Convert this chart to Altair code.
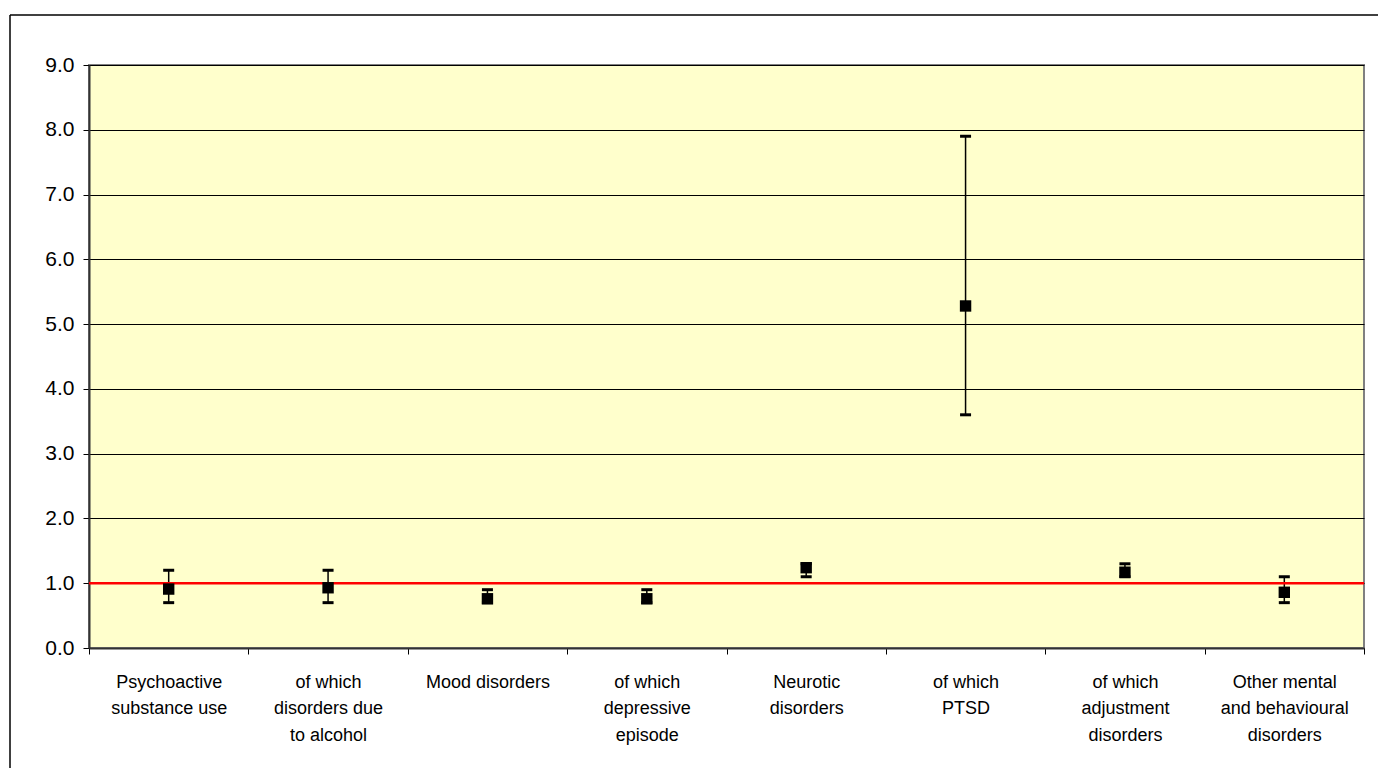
import altair as alt
import pandas as pd

categories = [
    "Psychoactive|substance use",
    "of which|disorders due|to alcohol",
    "Mood disorders",
    "of which|depressive|episode",
    "Neurotic|disorders",
    "of which|PTSD",
    "of which|adjustment|disorders",
    "Other mental|and behavioural|disorders",
]
estimate = [0.91, 0.93, 0.76, 0.76, 1.24, 5.28, 1.17, 0.86]
lower = [0.70, 0.70, 0.70, 0.70, 1.10, 3.60, 1.10, 0.70]
upper = [1.20, 1.20, 0.90, 0.90, 1.30, 7.90, 1.30, 1.10]
y_ticks = [0, 1, 2, 3, 4, 5, 6, 7, 8, 9]
reference_value = 1.0

df = pd.DataFrame({"cat": categories, "est": estimate, "lo": lower, "hi": upper})

xenc = alt.X(
    "cat:N",
    sort=categories,
    scale=alt.Scale(paddingInner=0, paddingOuter=0),
    axis=alt.Axis(
        title=None,
        labelAngle=0,
        labelExpr="split(datum.label, '|')",
        labelFontSize=18,
        labelLineHeight=26.5,
        labelPadding=19,
        labelColor="#000000",
        labelFont="Liberation Sans",
        tickBand="extent",
        tickSize=6,
        tickColor="#000000",
        domainColor="#333333",
        domainWidth=2,
        labelBaseline="top",
    ),
)
yscale = alt.Scale(domain=[0, 9], nice=False, zero=True)
yenc = alt.Y(
    "est:Q",
    scale=yscale,
    axis=alt.Axis(
        title=None,
        values=y_ticks,
        format=".1f",
        grid=True,
        gridColor="#000000",
        gridWidth=1,
        gridOpacity=1,
        labelFontSize=21,
        labelFont="Liberation Sans",
        labelColor="#000000",
        labelPadding=9,
        tickSize=6,
        tickColor="#000000",
        domainColor="#333333",
        domainWidth=2,
    ),
)

base = alt.Chart(df)

bars = base.mark_rule(color="#000000", strokeWidth=1.5).encode(
    x=xenc, y=alt.Y("lo:Q", scale=yscale), y2="hi:Q"
)
cap_lo = base.mark_tick(color="#000000", thickness=3, size=11, opacity=1).encode(
    x=alt.X("cat:N", sort=categories), y=alt.Y("lo:Q", scale=yscale)
)
cap_hi = base.mark_tick(color="#000000", thickness=3, size=11, opacity=1).encode(
    x=alt.X("cat:N", sort=categories), y=alt.Y("hi:Q", scale=yscale)
)
ref = alt.Chart(pd.DataFrame({"r": [reference_value]})).mark_rule(
    color="#FF0000", strokeWidth=2.5
).encode(y=alt.Y("r:Q", scale=yscale))
pts = base.mark_square(color="#000000", size=130, opacity=1).encode(
    x=alt.X("cat:N", sort=categories), y=yenc
)

frame_left = alt.Chart(pd.DataFrame({"r": [0]})).mark_rule(
    color="#000000", strokeWidth=1.5
).encode(x=alt.value(-79), y=alt.value(-50), y2=alt.value(760))
frame_top = alt.Chart(pd.DataFrame({"r": [0]})).mark_rule(
    color="#000000", strokeWidth=1.5
).encode(x=alt.value(-79), x2=alt.value(1310), y=alt.value(-50))

chart = (
    alt.layer(bars, cap_lo, cap_hi, ref, pts, frame_left, frame_top)
    .properties(
        width=1275,
        height=583,
        autosize=alt.AutoSizeParams(type="none"),
        padding={"left": 81, "top": 57, "right": 14, "bottom": 120},
        background="#FFFFFF",
    )
    .configure_view(fill="#FFFFCC", stroke="#808080", strokeWidth=2)
)

chart.save("out.html", embed_options={"renderer": "svg", "actions": False})
